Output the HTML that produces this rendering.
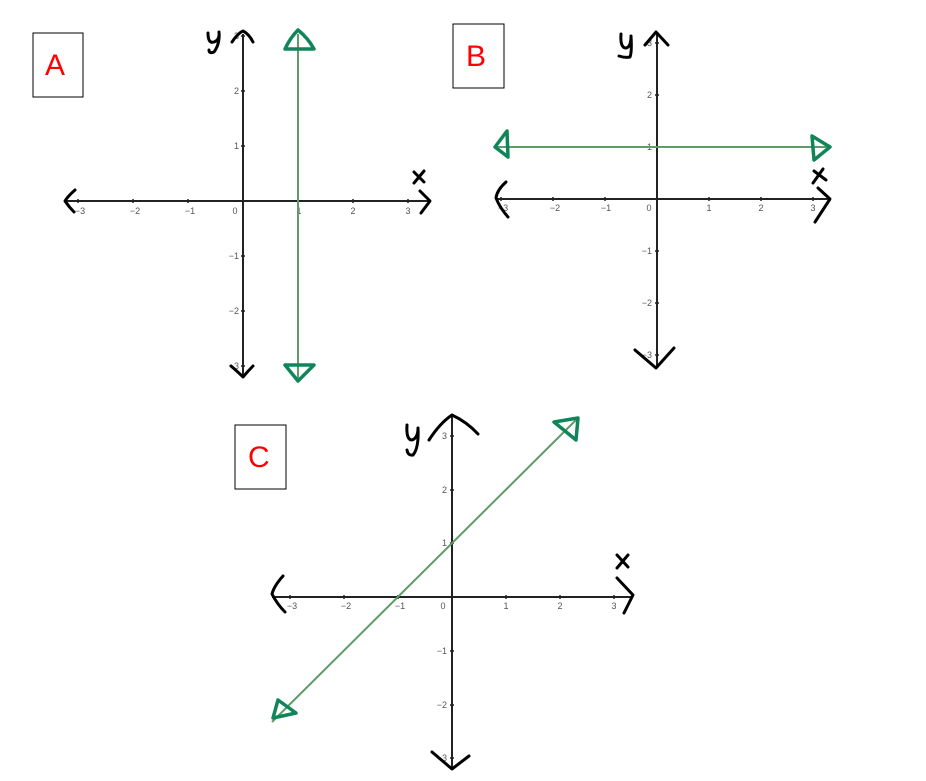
<!DOCTYPE html>
<html><head><meta charset="utf-8"><style>
html,body{margin:0;padding:0;background:#fff;width:926px;height:781px;overflow:hidden}
svg{display:block}
.t{font-family:"Liberation Sans",sans-serif;font-size:9px;fill:#555}
.ax{stroke:#222;stroke-width:2;fill:none}
.hd{stroke:#000;stroke-width:3;fill:none;stroke-linecap:round;stroke-linejoin:round}
.gl{stroke:#5f9c68;stroke-width:2;fill:none}
.gt{stroke:#11855a;stroke-width:3.5;fill:none;stroke-linejoin:round;stroke-linecap:round}
.lab{font-family:"Liberation Sans",sans-serif;font-size:30px;fill:#f00}
.tk{stroke:#222;stroke-width:1.5}
</style></head><body>
<svg width="926" height="781" viewBox="0 0 926 781">
<rect x="33" y="33" width="50" height="64" fill="#fff" stroke="#000" stroke-width="1"/>
<text class="lab" x="45" y="75">A</text>
<rect x="453" y="24" width="51" height="64" fill="#fff" stroke="#000" stroke-width="1"/>
<text class="lab" x="466" y="66">B</text>
<rect x="235" y="425" width="51" height="64" fill="#fff" stroke="#000" stroke-width="1"/>
<text class="lab" x="248" y="467">C</text>

<!-- Graph A -->
<line class="ax" x1="66" y1="201" x2="428" y2="201"/>
<line class="ax" x1="243" y1="34" x2="243" y2="375"/>
<g class="tk">
<line x1="78" y1="199" x2="78" y2="203"/><line x1="133" y1="199" x2="133" y2="203"/><line x1="188" y1="199" x2="188" y2="203"/>
<line x1="298" y1="199" x2="298" y2="203"/><line x1="353" y1="199" x2="353" y2="203"/><line x1="408" y1="199" x2="408" y2="203"/>
<line x1="241" y1="36" x2="245" y2="36"/><line x1="241" y1="91" x2="245" y2="91"/><line x1="241" y1="146" x2="245" y2="146"/>
<line x1="241" y1="256" x2="245" y2="256"/><line x1="241" y1="311" x2="245" y2="311"/><line x1="241" y1="366" x2="245" y2="366"/>
</g>
<g class="t" text-anchor="middle">
<text x="80" y="214">−3</text><text x="135" y="214">−2</text><text x="190" y="214">−1</text><text x="235" y="214">0</text>
<text x="299" y="214">1</text><text x="353" y="214">2</text><text x="408" y="214">3</text>
</g>
<g class="t" text-anchor="end">
<text x="239" y="39">3</text><text x="239" y="94">2</text><text x="239" y="149">1</text>
<text x="239" y="259">−1</text><text x="239" y="314">−2</text><text x="239" y="369">−3</text>
</g>
<path class="hd" d="M75,190 Q68,196 65,201 Q69,207 74,212"/>
<path class="hd" d="M420,191 L430,201 L421,213"/>
<path class="hd" d="M232,42 Q238,33 243,31 Q249,34 253,42"/>
<path class="hd" d="M231,366 Q238,372 243,377 Q248,371 253,366"/>
<path class="hd" d="M208,33 Q208,44 214,42 Q220,40 219,32 M219,32 Q220,44 214,52 Q209,54 209,50"/>
<path class="hd" d="M414,172 L424,182 M424,171 L414,183"/>
<line class="gl" x1="298" y1="34" x2="298" y2="378"/>
<path class="gt" d="M298,30 Q308,38 314,49 L285,49 Q290,38 298,30 Z"/>
<path class="gt" d="M285,365 L314,365 L298,381 Z"/>

<!-- Graph B -->
<line class="ax" x1="497" y1="199" x2="829" y2="199"/>
<line class="ax" x1="657" y1="32" x2="657" y2="367"/>
<g class="tk">
<line x1="501" y1="197" x2="501" y2="201"/><line x1="553" y1="197" x2="553" y2="201"/><line x1="605" y1="197" x2="605" y2="201"/>
<line x1="709" y1="197" x2="709" y2="201"/><line x1="761" y1="197" x2="761" y2="201"/><line x1="813" y1="197" x2="813" y2="201"/>
<line x1="655" y1="43" x2="659" y2="43"/><line x1="655" y1="95" x2="659" y2="95"/><line x1="655" y1="147" x2="659" y2="147"/>
<line x1="655" y1="251" x2="659" y2="251"/><line x1="655" y1="303" x2="659" y2="303"/><line x1="655" y1="355" x2="659" y2="355"/>
</g>
<g class="t" text-anchor="middle">
<text x="503" y="211">−3</text><text x="555" y="211">−2</text><text x="606" y="211">−1</text><text x="649" y="211">0</text>
<text x="709" y="211">1</text><text x="761" y="211">2</text><text x="813" y="211">3</text>
</g>
<g class="t" text-anchor="end">
<text x="652" y="46">3</text><text x="652" y="98">2</text><text x="652" y="150">1</text>
<text x="652" y="254">−1</text><text x="652" y="306">−2</text><text x="652" y="358">−3</text>
</g>
<path class="hd" d="M506,182 Q497,190 496,198 Q500,208 508,217"/>
<path class="hd" d="M818,188 L830,199 L815,222"/>
<path class="hd" d="M645,45 L656,32 L668,45"/>
<path class="hd" d="M635,350 L656,368 L674,348"/>
<path class="hd" d="M621,34 Q620,48 626,48 Q631,47 631,36 M631,36 Q632,52 630,57 Q625,58 619,56"/>
<path class="hd" d="M814,171 L826,180 M823,169 L813,183"/>
<line class="gl" x1="497" y1="147" x2="830" y2="147"/>
<path class="gt" d="M507,131 L495,147 L508,157 Z"/>
<path class="gt" d="M812,136 L830,147 L814,160 Z"/>

<!-- Graph C -->
<line class="ax" x1="272" y1="597" x2="633" y2="597"/>
<line class="ax" x1="452" y1="415" x2="452" y2="769"/>
<g class="tk">
<line x1="290" y1="595" x2="290" y2="599"/><line x1="344" y1="595" x2="344" y2="599"/><line x1="398" y1="595" x2="398" y2="599"/>
<line x1="506" y1="595" x2="506" y2="599"/><line x1="560" y1="595" x2="560" y2="599"/><line x1="614" y1="595" x2="614" y2="599"/>
<line x1="450" y1="436" x2="454" y2="436"/><line x1="450" y1="490" x2="454" y2="490"/><line x1="450" y1="543" x2="454" y2="543"/>
<line x1="450" y1="651" x2="454" y2="651"/><line x1="450" y1="705" x2="454" y2="705"/><line x1="450" y1="758" x2="454" y2="758"/>
</g>
<g class="t" text-anchor="middle">
<text x="292" y="609">−3</text><text x="346" y="609">−2</text><text x="400" y="609">−1</text><text x="443" y="609">0</text>
<text x="506" y="609">1</text><text x="560" y="609">2</text><text x="614" y="609">3</text>
</g>
<g class="t" text-anchor="end">
<text x="447" y="439">3</text><text x="447" y="493">2</text><text x="447" y="546">1</text>
<text x="447" y="654">−1</text><text x="447" y="708">−2</text><text x="447" y="761">−3</text>
</g>
<path class="hd" d="M283,576 Q274,586 272,594 Q277,604 285,612"/>
<path class="hd" d="M617,578 L633,595 L624,613"/>
<path class="hd" d="M429,440 Q440,423 452,415 Q467,422 478,434"/>
<path class="hd" d="M432,752 L452,769 L469,756"/>
<path class="hd" d="M407,425 Q406,440 412,440 Q418,438 418,428 M418,428 Q419,448 413,455 Q408,456 407,450"/>
<path class="hd" d="M617,555 L628,567 M628,555 L617,568"/>
<line class="gl" x1="272" y1="722" x2="578" y2="418"/>
<path class="gt" d="M554,422 L578,418 L576,440 Z"/>
<path class="gt" d="M278,700 L273,718 L296,713 Z"/>
</svg>
</body></html>
